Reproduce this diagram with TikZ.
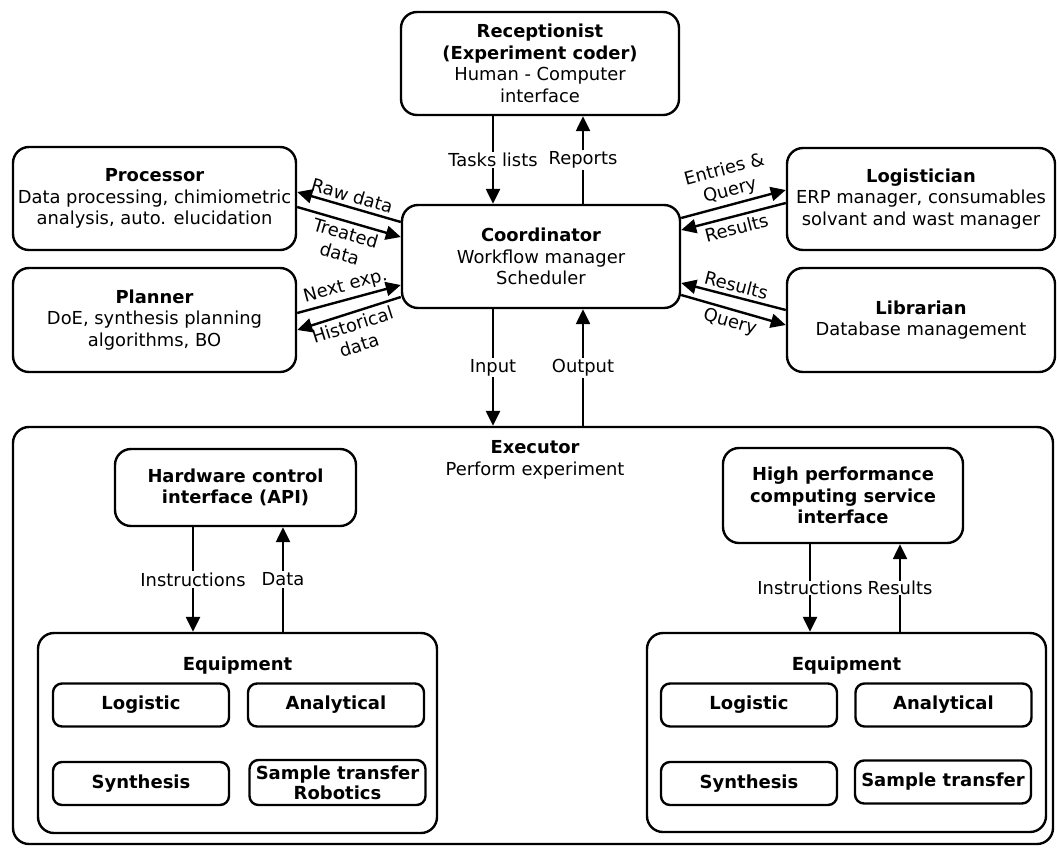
\documentclass[tikz,border=0pt]{standalone}
\usepackage{fontspec}
\setmainfont{DejaVu Sans}
\usetikzlibrary{arrows.meta, positioning, calc}

\begin{document}
\begin{tikzpicture}[
    x=1pt, y=-1pt,
    font=\fontsize{17.9}{21.6}\selectfont,
    box/.style={draw, rounded corners=16pt, line width=2.4pt, align=center, inner sep=2pt},
    smallbox/.style={draw, rounded corners=9pt, line width=2.4pt, minimum width=176pt,
                     minimum height=43pt, align=center, inner sep=1pt,
                     font=\fontsize{18}{20}\selectfont\bfseries},
    arrow/.style={-{Triangle[length=15pt, width=14pt]}, line width=2.4pt},
    lbl/.style={fill=white, inner sep=1.5pt},
    slbl/.style={sloped, inner sep=3.5pt, align=center},
]
    \useasboundingbox (0,0) rectangle (1057,847);

    % Top level agents
    \node[box, minimum width=278pt, minimum height=103pt] (recep) at (540,63.5)
        {\textbf{Receptionist}\\\textbf{(Experiment coder)}\\Human - Computer\\interface};
    \node[box, minimum width=278pt, minimum height=103pt] (coord) at (541,256.5)
        {\textbf{Coordinator}\\Workflow manager\\Scheduler};
    \node[box, minimum width=283pt, minimum height=103pt] (proc) at (154.5,198.5)
        {\textbf{Processor}\\Data processing, chimiometric\\analysis, auto. elucidation};
    \node[box, minimum width=283pt, minimum height=104pt] (plan) at (154.5,320)
        {\textbf{Planner}\\DoE, synthesis planning\\algorithms, BO};
    \node[box, minimum width=268pt, minimum height=102pt] (logi) at (921,199)
        {\textbf{Logistician}\\ERP manager, consumables\\solvant and wast manager};
    \node[box, minimum width=268pt, minimum height=104pt] (libr) at (921,320)
        {\textbf{Librarian}\\Database management};

    % Executor
    \node[box, minimum width=1040pt, minimum height=417pt] (exec) at (533,635.5) {};
    \node[align=center] (exectitle) at (535,460) {\textbf{Executor}\\Perform experiment};
    \node[box, minimum width=241pt, minimum height=77pt] (hw) at (235.5,487.5)
        {\textbf{Hardware control}\\\textbf{interface (API)}};
    \node[box, minimum width=240pt, minimum height=95pt] (hpc) at (843,495.5)
        {\textbf{High performance}\\\textbf{computing service}\\\textbf{interface}};

    % Equipment, left
    \node[box, minimum width=399pt, minimum height=200pt] (eqL) at (237.5,733) {};
    \node[font=\fontsize{18}{21}\selectfont\bfseries] (eqLtitle) at (237.5,666) {Equipment};
    \node[smallbox] (logL) at (141,705) {Logistic};
    \node[smallbox] (anaL) at (336,705) {Analytical};
    \node[smallbox] (synL) at (141,783.5) {Synthesis};
    \node[smallbox, minimum height=45pt] (smpL) at (337.5,782.5) {Sample transfer\\Robotics};

    % Equipment, right
    \node[box, minimum width=399pt, minimum height=199pt] (eqR) at (846.5,732.5) {};
    \node[font=\fontsize{18}{21}\selectfont\bfseries] (eqRtitle) at (846.5,666) {Equipment};
    \node[smallbox] (logR) at (749,705) {Logistic};
    \node[smallbox] (anaR) at (943.5,705) {Analytical};
    \node[smallbox] (synR) at (749,783.5) {Synthesis};
    \node[smallbox] (smpR) at (943,782) {Sample transfer};

    % Vertical arrows
    \draw[arrow] ([xshift=-47pt]recep.south) -- ([xshift=-47pt]recep.south |- coord.north)
        node[lbl, midway] {Tasks lists};
    \draw[arrow] ([xshift=42pt]coord.north) -- ([xshift=42pt]coord.north |- recep.south)
        node[lbl, midway] {Reports};
    \draw[arrow] ([xshift=-48pt]coord.south) -- ([xshift=-48pt]coord.south |- exec.north)
        node[lbl, midway] {Input};
    \draw[arrow] ([xshift=42pt]coord.south |- exec.north) -- ([xshift=42pt]coord.south)
        node[lbl, midway] {Output};
    \draw[arrow] ([xshift=-42.5pt]hw.south) -- ([xshift=-42.5pt]hw.south |- eqL.north)
        node[lbl, midway] {Instructions};
    \draw[arrow] ([xshift=47.5pt]hw.south |- eqL.north) -- ([xshift=47.5pt]hw.south)
        node[lbl, midway] {Data};
    \draw[arrow] ([xshift=-33pt]hpc.south) -- ([xshift=-33pt]hpc.south |- eqR.north)
        node[lbl, midway, inner sep=0.5pt] {Instructions};
    \draw[arrow] ([xshift=57pt]hpc.south |- eqR.north) -- ([xshift=57pt]hpc.south)
        node[lbl, midway, inner sep=0.5pt] {Results};

    % Slanted arrows, left
    \draw[arrow] ([yshift=34.5pt]coord.west) -- ([yshift=6.5pt]proc.east)
        node[slbl, midway, above] {Raw data};
    \draw[arrow] ([yshift=-8.5pt]proc.east) -- ([yshift=19.5pt]coord.west)
        node[slbl, midway, below] {Treated\\data};
    \draw[arrow] ([yshift=7pt]plan.east) -- ([yshift=-28.5pt]coord.west)
        node[slbl, midway, above] {Next exp.};
    \draw[arrow] ([yshift=-40.5pt]coord.west) -- ([yshift=-10pt]plan.east)
        node[slbl, midway, below] {Historical\\data};

    % Slanted arrows, right
    \draw[arrow] ([yshift=38.5pt]coord.east) -- ([yshift=9pt]logi.west)
        node[slbl, midway, above] {Entries \&\\Query};
    \draw[arrow] ([yshift=-4pt]logi.west) -- ([yshift=26.5pt]coord.east)
        node[slbl, midway, below] {Results};
    \draw[arrow] ([yshift=10pt]libr.west) -- ([yshift=-26.5pt]coord.east)
        node[slbl, midway, above] {Results};
    \draw[arrow] ([yshift=-38.5pt]coord.east) -- ([yshift=-5pt]libr.west)
        node[slbl, midway, below] {Query};
\end{tikzpicture}
\end{document}
